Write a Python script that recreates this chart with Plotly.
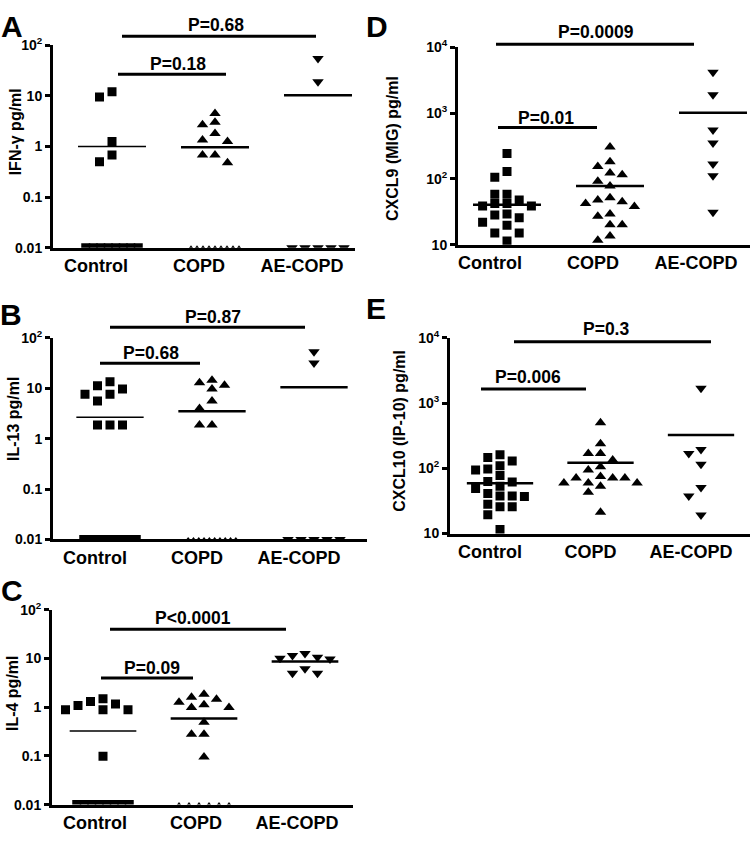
import numpy as np
import plotly.graph_objects as go

W, H = 754, 841
FONT = "Liberation Sans"

categories = ["Control", "COPD", "AE-COPD"]

# ---- Panel A: IFN-gamma (pg/ml); 0.01 = below detection limit
ifng_control = [12, 9.5, 1.25, 0.68, 0.5, 0.01, 0.01, 0.01, 0.01, 0.01, 0.01, 0.01, 0.01]
ifng_copd = [4.5, 3.0, 2.7, 1.8, 1.25, 1.35, 0.68, 0.68, 0.48,
             0.01, 0.01, 0.01, 0.01, 0.01, 0.01, 0.01, 0.01, 0.01]
ifng_ae = [55, 19, 0.01, 0.01, 0.01, 0.01, 0.01]
ifng_center = [1.0, 0.97, 10.3]
ifng_p = ["P=0.18", "P=0.68"]

# ---- Panel B: IL-13 (pg/ml)
il13_control = [13.4, 11.2, 9.6, 7.6, 7.6, 5.6, 1.87, 1.87, 1.87,
                0.01, 0.01, 0.01, 0.01, 0.01, 0.01, 0.01, 0.01]
il13_copd = [14.4, 11.5, 9.6, 12.8, 5.6, 3.95, 1.87, 1.87,
             0.01, 0.01, 0.01, 0.01, 0.01, 0.01, 0.01, 0.01, 0.01, 0.01]
il13_ae = [52.8, 31.7, 0.01, 0.01, 0.01, 0.01, 0.01]
il13_center = [2.67, 3.5, 10.4]
il13_p = ["P=0.68", "P=0.87"]

# ---- Panel C: IL-4 (pg/ml)
il4_control = [1.17, 1.49, 0.89, 0.89, 1.32, 0.89, 1.09, 0.099,
               0.01, 0.01, 0.01, 0.01, 0.01, 0.01, 0.01, 0.01]
il4_copd = [1.27, 1.6, 1.86, 0.99, 0.99, 1.12, 1.46, 0.49, 0.28, 0.28, 0.095,
            0.01, 0.01, 0.01, 0.01, 0.01, 0.01]
il4_ae = [11.5, 10.2, 9.8, 10.6, 12.7, 6.2, 5.0, 5.0]
il4_center = [0.325, 0.59, 8.7]
il4_p = ["P=0.09", "P<0.0001"]

# ---- Panel D: CXCL9 (MIG) pg/ml
cxcl9_control = [244, 130, 106, 58.6, 58.6, 48, 42.5, 42.5, 39, 39, 29.5, 28.5,
                 25.7, 22.1, 19.8, 15.2, 15.2, 11.4]
cxcl9_copd = [307, 155, 183, 123, 116, 92.5, 78, 52, 48, 45, 42.5, 38.3, 29.5,
              27.2, 20.2, 20.2, 11.8, 13.6]
cxcl9_ae = [4150, 1900, 555, 352, 169, 112, 31.2]
cxcl9_center = [40.5, 78, 1016]
cxcl9_p = ["P=0.01", "P=0.0009"]

# ---- Panel E: CXCL10 (IP-10) pg/ml
cxcl10_control = [162, 147, 129, 109, 98, 94.6, 77.6, 61.7, 63, 53, 49, 37.6,
                  36.9, 37.6, 41, 28.2, 25.7, 25.7, 19.5, 11.5]
cxcl10_copd = [500, 238, 168, 168, 134, 106, 94.6, 71, 71, 71, 75, 59.7, 53,
               59.7, 59.7, 43, 21.2]
cxcl10_ae = [1680, 195, 168, 115, 51, 37.6, 19.3]
cxcl10_center = [58.8, 122, 324]
cxcl10_p = ["P=0.006", "P=0.3"]

# ---------------- layout geometry (pixels) ----------------
panels = [
    dict(letter="A", title="IFN-\u03b3 pg/ml", groups=[ifng_control, ifng_copd, ifng_ae],
         center=ifng_center, p=ifng_p, x0=53, x1=355, c0=112, step=103, top=36, bottom=243,
         yr=(-2, 2), floor=0.01, floor_step=[7.5, 6, 13], lbl_shift=-16,
         ttl=(15, 125), let=(12, 17),
         brackets=[(118, 226, 65.7, 178, 55), (122, 316, 26.7, 216, 15)],
         linew=[1.5, 2.5, 2.5]),
    dict(letter="B", title="IL-13 pg/ml", groups=[il13_control, il13_copd, il13_ae],
         center=il13_center, p=il13_p, x0=53, x1=367, c0=110, step=102, top=335, bottom=541,
         yr=(-2, 2), floor=0.01, floor_step=[7.5, 5.3, 13], lbl_shift=-15,
         ttl=(13, 418), let=(11, 311),
         brackets=[(100, 200, 361, 151, 350), (110, 305, 324.3, 213, 314)],
         linew=[1.5, 2.5, 2.5]),
    dict(letter="C", title="IL-4 pg/ml", groups=[il4_control, il4_copd, il4_ae],
         center=il4_center, p=il4_p, x0=52, x1=353, c0=103, step=101, top=613, bottom=812,
         yr=(-2, 2), floor=0.01, floor_step=[7.5, 10, 13], lbl_shift=-8,
         ttl=(12, 698), let=(12, 593),
         brackets=[(101, 193, 682.7, 152, 672), (110, 286, 632.7, 193, 621)],
         linew=[1.5, 2.5, 2.5]),
    dict(letter="D", title="CXCL9 (MIG) pg/ml", groups=[cxcl9_control, cxcl9_copd, cxcl9_ae],
         center=cxcl9_center, p=cxcl9_p, x0=458, x1=750, c0=507, step=103, top=38, bottom=240,
         yr=(1, 4), floor=0, floor_step=[8, 6, 13], lbl_shift=-17,
         ttl=(393, 142), let=(377, 17),
         brackets=[(498, 597, 120, 546, 110), (496, 694, 35, 596, 22)],
         linew=[2.5, 2.5, 2.5]),
    dict(letter="E", title="CXCL10 (IP-10) pg/ml", groups=[cxcl10_control, cxcl10_copd, cxcl10_ae],
         center=cxcl10_center, p=cxcl10_p, x0=450, x1=750, c0=500, step=100.5, top=335, bottom=535,
         yr=(1, 4), floor=0, floor_step=[8, 6, 13], lbl_shift=-10,
         ttl=(400, 430), let=(376, 305),
         brackets=[(481, 586, 387.3, 528, 375), (514, 711, 339, 606, 326)],
         linew=[2.5, 2.5, 2.5]),
]

symbols = ["square", "triangle-up", "triangle-down"]
marker_size = [9, 10, 10]
floor_size = [9, 5, 10]


def px_x(px):
    return px / W


def px_y(py):
    return 1 - py / H


def swarm(values, ppd, col_px, mk_px, floor, floor_step):
    """Simple column beeswarm: spread points that would overlap into side columns."""
    offs = [0.0] * len(values)
    placed = []
    order = sorted(range(len(values)), key=lambda i: -values[i])
    cands = [0]
    for j in range(1, 30):
        cands += [-j, j]
    floor_idx = []
    for i in order:
        if values[i] <= floor:
            floor_idx.append(i)
            continue
        y = np.log10(values[i]) * ppd
        for c in cands:
            if all(not (pc == c and abs(py - y) < mk_px) for pc, py in placed):
                break
        placed.append((c, y))
        offs[i] = c * col_px
    n = len(floor_idx)
    for k, i in enumerate(floor_idx):
        offs[i] = (k - (n - 1) / 2) * floor_step
    return offs


fig = go.Figure()
layout = dict(width=W, height=H, margin=dict(l=0, r=0, t=0, b=0),
              paper_bgcolor="white", plot_bgcolor="white", showlegend=False,
              font=dict(family=FONT, color="black", size=14))
shapes, annotations = [], []

for k, p in enumerate(panels, start=1):
    xa = "x" if k == 1 else f"x{k}"
    ya = "y" if k == 1 else f"y{k}"
    ppd = (p["bottom"] - p["top"]) / (p["yr"][1] - p["yr"][0])
    col_px = 12.5 if p["yr"][0] < 0 else 12.2
    for gi, vals in enumerate(p["groups"]):
        offs = swarm(vals, ppd, col_px, 9, p["floor"], p["floor_step"][gi])
        xs = [gi + o / p["step"] for o in offs]
        sizes = [floor_size[gi] if v <= p["floor"] else marker_size[gi] for v in vals]
        fig.add_trace(go.Scatter(x=xs, y=vals, mode="markers", xaxis=xa, yaxis=ya,
                                 marker=dict(symbol=symbols[gi], size=sizes, color="black",
                                             opacity=1, line=dict(width=0)),
                                 hoverinfo="skip"))
        c = p["center"][gi]
        fig.add_trace(go.Scatter(x=[gi - 0.33, gi + 0.33], y=[c, c], mode="lines",
                                 xaxis=xa, yaxis=ya,
                                 line=dict(color="black", width=p["linew"][gi]),
                                 hoverinfo="skip"))

    xr = [(p["x0"] - p["c0"]) / p["step"], (p["x1"] - p["c0"]) / p["step"]]
    lo, hi = p["yr"]
    tv = [10.0 ** e for e in range(lo, hi + 1)]
    if lo < 0:
        tt = ["0.01", "0.1", "1", "10", "10<sup>2</sup>"]
    else:
        tt = ["10", "10<sup>2</sup>", "10<sup>3</sup>", "10<sup>4</sup>"]
    layout["xaxis" if k == 1 else f"xaxis{k}"] = dict(
        domain=[px_x(p["x0"]), px_x(p["x1"])], anchor=ya, range=xr,
        showline=True, linewidth=3, linecolor="black", showgrid=False, zeroline=False,
        ticks="", tickvals=[i + p["lbl_shift"] / p["step"] for i in range(3)],
        ticktext=categories, tickfont=dict(size=18, family=FONT, weight="bold"),
        fixedrange=True)
    layout["yaxis" if k == 1 else f"yaxis{k}"] = dict(
        domain=[px_y(p["bottom"]), px_y(p["top"])], anchor=xa, type="log",
        range=[lo, hi], showline=True, linewidth=3, linecolor="black",
        showgrid=False, zeroline=False, ticks="outside", ticklen=5, tickwidth=2.5,
        tickcolor="black", tickvals=tv, ticktext=tt,
        tickfont=dict(size=14, family=FONT, weight="bold"), fixedrange=True)

    for (bx0, bx1, by, tx, ty), label in zip(p["brackets"], p["p"]):
        shapes.append(dict(type="line", xref="paper", yref="paper",
                           x0=px_x(bx0), x1=px_x(bx1), y0=px_y(by), y1=px_y(by),
                           line=dict(color="black", width=3)))
        annotations.append(dict(text=label, xref="paper", yref="paper",
                                x=px_x(tx), y=px_y(ty), xanchor="center", yanchor="middle",
                                showarrow=False,
                                font=dict(size=17.5, family=FONT, weight="bold")))
    annotations.append(dict(text=p["title"], xref="paper", yref="paper",
                            x=px_x(p["ttl"][0]), y=px_y(p["ttl"][1]), textangle=-90,
                            xanchor="center", yanchor="middle", showarrow=False,
                            font=dict(size=16, family=FONT, weight="bold")))
    annotations.append(dict(text=p["letter"], xref="paper", yref="paper",
                            x=px_x(p["let"][0]), y=px_y(p["let"][1]),
                            xanchor="center", yanchor="middle", showarrow=False,
                            font=dict(size=30, family=FONT, weight="bold")))

layout["shapes"] = shapes
layout["annotations"] = annotations
fig.update_layout(**layout)
fig.write_html(
    "out.html", config={"displayModeBar": False},
    post_script=(
        "document.documentElement.style.margin='0';"
        "document.body.style.margin='0';document.body.style.padding='0';"
        "document.body.style.overflow='hidden';"
        "var gd=document.getElementsByClassName('plotly-graph-div')[0];"
        "gd.style.position='fixed';gd.style.top='0px';gd.style.left='0px';"
    ))
